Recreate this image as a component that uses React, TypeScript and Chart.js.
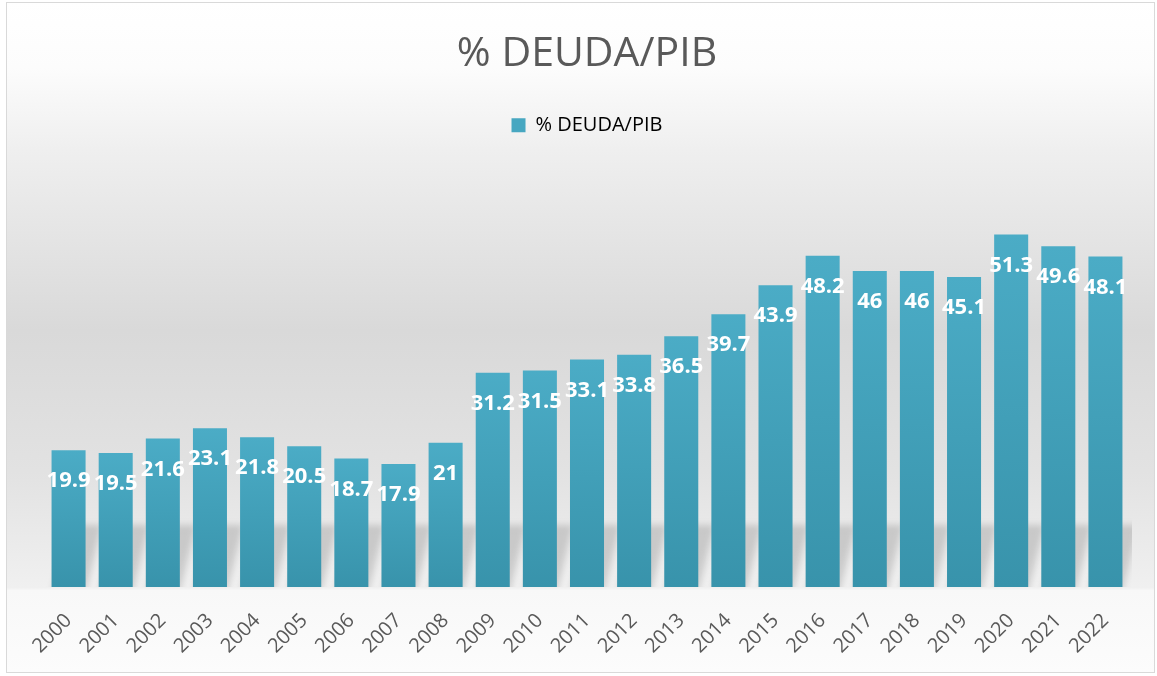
import React, { useEffect, useRef } from "react";
import { Chart, registerables } from "chart.js";

Chart.register(...registerables);

const chartTitle = "% DEUDA/PIB";
const seriesName = "% DEUDA/PIB";
const years = [
  "2000", "2001", "2002", "2003", "2004", "2005", "2006", "2007", "2008", "2009", "2010", "2011",
  "2012", "2013", "2014", "2015", "2016", "2017", "2018", "2019", "2020", "2021", "2022",
];
const debtRatio = [
  19.9, 19.5, 21.6, 23.1, 21.8, 20.5, 18.7, 17.9, 21, 31.2, 31.5, 33.1,
  33.8, 36.5, 39.7, 43.9, 48.2, 46, 46, 45.1, 51.3, 49.6, 48.1,
];
const valueLabels = debtRatio.map((v) => String(v));
const yMin = 0;
const yMax = 64.3;

const W = 1157;
const H = 676;
const FONT = '"Open Sans", "DejaVu Sans", sans-serif';

const backgroundPlugin = {
  id: "bgPlugin",
  beforeDraw(chart: any) {
    const { ctx } = chart;
    ctx.save();
    ctx.fillStyle = "#ffffff";
    ctx.fillRect(0, 0, W, H);
    const g = ctx.createLinearGradient(0, 2, 0, 673);
    g.addColorStop(0, "#ffffff");
    g.addColorStop(0.098, "#fcfcfc");
    g.addColorStop(0.22, "#efefef");
    g.addColorStop(0.49, "#d9d9d9");
    g.addColorStop(0.7, "#e2e2e2");
    g.addColorStop(0.873, "#f0f0f0");
    g.addColorStop(0.877, "#f8f8f8");
    g.addColorStop(1, "#fcfcfc");
    ctx.fillStyle = g;
    ctx.fillRect(6, 2, 1149, 671);
    ctx.strokeStyle = "#d9d9d9";
    ctx.lineWidth = 1;
    ctx.strokeRect(6.5, 2.5, 1148, 670);
    ctx.restore();
  },
};

const shadowPlugin = {
  id: "shadowPlugin",
  beforeDatasetsDraw(chart: any) {
    const { ctx, chartArea } = chart;
    const meta = chart.getDatasetMeta(0);
    ctx.save();
    ctx.beginPath();
    ctx.rect(chartArea.left, chartArea.top, chartArea.right - chartArea.left + 3, chartArea.bottom - chartArea.top);
    ctx.clip();
    ctx.filter = "blur(3px)";
    ctx.fillStyle = "rgba(0,0,0,0.14)";
    meta.data.forEach((bar: any) => {
      const p = bar.getProps(["x", "y", "base", "width"], true);
      const l = p.x - p.width / 2;
      const r = p.x + p.width / 2;
      const h = Math.min(p.base - p.y, 62);
      const shift = 16;
      ctx.beginPath();
      ctx.moveTo(l, p.base + 6);
      ctx.lineTo(r, p.base + 6);
      ctx.lineTo(r + shift, p.base - h);
      ctx.lineTo(l + shift, p.base - h);
      ctx.closePath();
      ctx.fill();
    });
    ctx.restore();
  },
};

const labelPlugin = {
  id: "valueLabels",
  afterDatasetsDraw(chart: any) {
    const { ctx } = chart;
    const meta = chart.getDatasetMeta(0);
    ctx.save();
    ctx.font = `bold 22px ${FONT}`;
    ctx.fillStyle = "#ffffff";
    ctx.textAlign = "center";
    ctx.textBaseline = "alphabetic";
    meta.data.forEach((bar: any, i: number) => {
      ctx.fillText(valueLabels[i], bar.x, bar.y + 37);
    });
    ctx.restore();
  },
};

export default function App() {
  const ref = useRef<HTMLCanvasElement | null>(null);

  useEffect(() => {
    if (!ref.current) return;
    const chart = new Chart(ref.current, {
      type: "bar",
      data: {
        labels: years,
        datasets: [
          {
            label: seriesName,
            data: debtRatio,
            backgroundColor: (c: any) => {
              const ch = c.chart;
              const y = ch.scales && ch.scales.y;
              if (!y || c.type !== "data") return "#46a6bf";
              const top = y.getPixelForValue(c.raw);
              const bottom = y.getPixelForValue(0);
              const g = ch.ctx.createLinearGradient(0, top, 0, bottom);
              g.addColorStop(0, "#4bacc6");
              g.addColorStop(1, "#3893ab");
              return g;
            },
            borderWidth: 0,
            barPercentage: 0.722,
            categoryPercentage: 1,
          },
        ],
      },
      options: {
        responsive: false,
        devicePixelRatio: 1,
        animation: false,
        events: [],
        layout: { padding: { top: 0, left: 45, right: 28, bottom: 0 } },
        plugins: {
          tooltip: { enabled: false },
          title: {
            display: true,
            text: chartTitle,
            color: "#595959",
            font: { family: FONT, size: 41, weight: "normal" },
            padding: { top: 30, bottom: 26 },
          },
          legend: {
            display: true,
            position: "top",
            labels: {
              color: "#595959",
              font: { family: FONT, size: 20 },
              boxWidth: 14,
              boxHeight: 14,
              padding: 10,
              generateLabels: () => [
                {
                  text: seriesName,
                  fillStyle: "#47a7c1",
                  strokeStyle: "rgba(0,0,0,0)",
                  lineWidth: 0,
                  hidden: false,
                  datasetIndex: 0,
                },
              ],
            },
          },
        },
        scales: {
          x: {
            grid: { display: false, drawTicks: false },
            border: { display: false },
            afterFit: (scale: any) => {
              scale.height = 89;
            },
            ticks: {
              color: "#595959",
              font: { family: FONT, size: 20 },
              maxRotation: 45,
              minRotation: 45,
              padding: 22,
              autoSkip: false,
            },
          },
          y: {
            display: false,
            min: yMin,
            max: yMax,
          },
        },
      },
      plugins: [backgroundPlugin, shadowPlugin, labelPlugin],
    } as any);
    return () => chart.destroy();
  }, []);

  return (
    <div style={{ position: "fixed", left: 0, top: 0, width: W, height: H }}>
      <canvas ref={ref} width={W} height={H} style={{ display: "block" }} />
    </div>
  );
}
